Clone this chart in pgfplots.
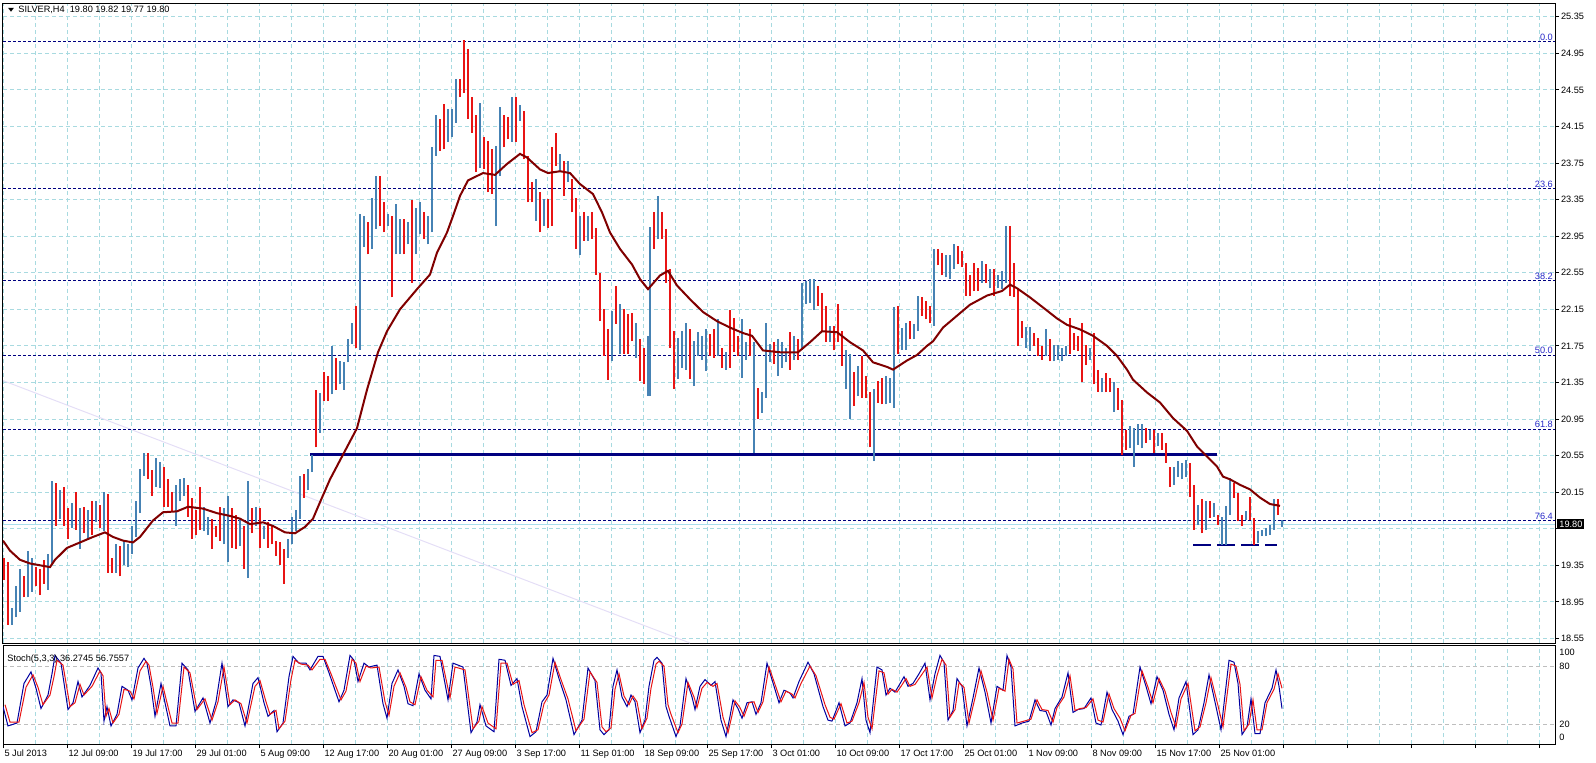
\documentclass[border=0pt]{standalone}
\usepackage{fontspec}
\setmainfont{Liberation Sans}
\usepackage{pgfplots}
\usepackage{pgfplotstable}
\pgfplotsset{compat=1.18}

\definecolor{gridc}{RGB}{168,218,224}
\definecolor{bull}{RGB}{70,130,180}
\definecolor{bear}{RGB}{232,20,20}
\definecolor{maline}{RGB}{128,0,0}
\definecolor{fib}{RGB}{0,0,128}
\definecolor{fibtxt}{RGB}{40,40,200}
\definecolor{lav}{RGB}{228,222,246}
\definecolor{kline}{RGB}{0,0,160}
\definecolor{lvl}{RGB}{190,190,190}
\definecolor{lastc}{RGB}{170,222,236}
\newcommand{\lbl}{\fontsize{4.6}{5}\selectfont}

% H4 bars, two bars merged per row: x (px) low high c (0 up, 1 down)
\pgfplotstableread{
x lo hi c
4 19.19 19.43 1
8 18.70 19.39 1
12 18.70 18.88 0
16 18.78 19.12 0
20 18.84 19.31 0
24 19.00 19.23 1
28 19.00 19.51 0
32 19.06 19.43 0
36 19.12 19.33 1
40 19.02 19.31 1
44 19.15 19.41 1
48 19.08 19.47 0
52 19.35 20.27 0
56 19.78 20.25 1
60 19.86 20.17 0
64 19.78 20.21 1
68 19.64 19.98 1
72 19.76 20.03 0
76 19.74 20.15 1
80 19.53 19.98 0
84 19.70 19.99 1
88 19.64 19.96 0
92 19.68 20.05 1
96 19.82 20.05 0
100 19.76 20.01 1
104 19.72 20.15 0
108 19.27 20.13 1
112 19.27 19.43 1
116 19.27 19.58 0
120 19.23 19.56 1
124 19.35 19.62 0
128 19.33 19.58 0
132 19.47 19.78 0
136 19.66 20.05 0
140 19.92 20.40 0
144 20.33 20.58 0
148 20.29 20.58 1
152 20.11 20.39 1
156 20.21 20.52 0
160 20.19 20.48 0
164 19.99 20.42 1
168 19.99 20.29 1
172 19.94 20.15 1
176 19.78 20.23 0
180 20.05 20.29 0
184 20.11 20.31 0
188 19.88 20.23 1
192 19.64 20.09 1
196 19.68 19.96 1
200 19.74 20.21 1
204 19.72 19.99 0
208 19.68 19.88 0
212 19.53 19.86 1
216 19.66 19.78 1
220 19.62 19.99 1
224 19.58 19.98 0
228 19.39 20.11 0
232 19.54 19.98 1
236 19.53 19.90 1
240 19.56 19.86 0
244 19.31 19.78 1
248 19.21 20.27 0
252 19.70 19.98 1
256 19.78 19.99 0
260 19.54 19.98 1
264 19.64 19.78 0
268 19.54 19.82 1
272 19.58 19.78 1
276 19.45 19.62 1
280 19.35 19.60 1
284 19.15 19.53 1
288 19.43 19.64 0
292 19.58 19.88 0
296 19.72 19.96 0
300 19.86 20.33 0
304 20.09 20.35 1
308 20.17 20.40 0
312 20.37 20.56 0
316 20.64 21.27 1
320 20.80 21.23 0
324 21.15 21.46 1
328 21.15 21.42 1
332 21.22 21.75 0
336 21.27 21.62 1
340 21.33 21.58 0
344 21.27 21.57 0
348 21.57 21.82 0
352 21.77 22.00 0
356 21.73 22.19 1
360 21.71 23.19 0
364 22.83 23.17 0
368 22.75 23.10 1
372 22.81 23.37 0
376 23.03 23.61 0
380 23.06 23.61 1
384 22.99 23.32 1
388 23.06 23.19 0
392 22.28 23.17 1
396 22.75 23.30 0
400 22.75 23.14 0
404 22.75 23.14 1
408 22.86 23.10 0
412 22.44 23.34 1
416 22.75 23.26 0
420 22.97 23.32 0
424 22.92 23.21 1
428 22.86 23.17 0
432 22.99 23.92 0
436 23.83 24.27 0
440 23.88 24.23 1
444 23.90 24.40 1
448 23.98 24.34 0
452 24.03 24.34 0
456 24.19 24.67 0
460 24.47 24.67 1
464 24.52 25.09 1
468 24.23 25.00 1
472 24.08 24.47 1
476 23.65 24.27 1
480 23.70 24.41 0
484 23.68 24.03 1
488 23.43 23.99 1
492 23.41 23.90 1
496 23.06 23.94 0
500 23.61 24.36 0
504 23.92 24.27 1
508 24.01 24.25 1
512 23.98 24.47 0
516 23.98 24.47 1
520 24.21 24.38 0
524 23.79 24.32 1
528 23.32 23.83 1
532 23.32 23.54 1
536 23.12 23.57 0
540 22.99 23.43 1
544 23.06 23.36 0
548 23.04 23.36 1
552 23.06 23.92 1
556 23.72 24.08 1
560 23.65 23.85 0
564 23.39 23.77 1
568 23.54 23.77 0
572 23.21 23.57 1
576 22.81 23.37 1
580 22.74 23.17 0
584 22.90 23.21 1
588 22.90 23.17 0
592 22.92 23.21 1
596 22.53 23.04 1
600 22.02 22.55 1
604 21.64 22.15 1
608 21.38 21.93 1
612 21.58 22.13 0
616 21.99 22.41 1
620 21.66 22.21 0
624 21.66 22.15 1
628 21.66 22.10 1
632 21.80 22.11 1
636 21.62 22.00 0
640 21.37 21.82 1
644 21.33 21.73 1
648 21.20 21.86 0
650 21.20 23.05 0
654 22.81 23.21 1
658 22.92 23.39 0
662 22.92 23.21 1
666 22.44 23.03 1
670 21.73 22.59 1
674 21.28 21.91 1
678 21.39 21.84 0
682 21.51 21.91 0
686 21.49 22.00 0
690 21.39 21.93 1
694 21.31 21.80 0
698 21.64 21.90 0
702 21.60 21.86 0
706 21.48 21.93 0
710 21.64 21.88 1
714 21.62 21.93 1
718 21.64 22.04 0
722 21.51 21.73 1
726 21.49 21.68 0
730 21.51 22.14 1
734 21.68 22.06 1
738 21.64 21.86 1
742 21.40 22.04 0
746 21.60 21.79 0
750 21.64 21.93 1
754 20.58 21.79 0
758 20.95 21.29 1
762 21.02 21.24 0
766 21.18 22.00 0
770 21.57 21.77 0
774 21.55 21.79 1
778 21.42 21.82 0
782 21.51 21.79 0
786 21.57 21.73 0
790 21.49 21.90 1
794 21.60 21.86 0
798 21.60 21.82 1
802 21.71 22.44 0
806 22.21 22.46 0
810 22.22 22.48 0
814 22.14 22.48 0
818 22.19 22.41 1
822 21.91 22.33 1
826 21.79 22.19 1
830 21.79 21.97 0
834 21.70 21.97 1
838 21.79 22.21 1
842 21.53 21.91 1
846 21.28 21.71 0
850 20.95 21.66 0
854 21.09 21.46 1
858 21.20 21.53 0
862 21.18 21.64 1
866 21.18 21.42 1
870 20.64 21.24 1
874 20.49 21.28 0
878 21.13 21.37 1
882 21.11 21.40 1
886 21.11 21.42 0
890 21.13 21.40 0
894 21.07 22.17 0
898 21.66 22.19 1
902 21.71 21.95 0
906 21.71 22.00 0
910 21.82 22.02 1
914 21.82 21.99 0
918 21.91 22.30 0
922 22.08 22.28 1
926 22.04 22.24 1
930 22.00 22.19 1
934 21.97 22.81 0
938 22.63 22.81 1
942 22.52 22.77 1
946 22.50 22.74 0
950 22.48 22.74 0
954 22.59 22.86 0
958 22.64 22.84 1
962 22.61 22.79 1
966 22.30 22.66 1
970 22.30 22.52 1
974 22.35 22.66 1
978 22.35 22.60 1
982 22.44 22.68 0
986 22.44 22.64 1
990 22.38 22.59 0
994 22.29 22.59 1
998 22.38 22.53 0
1002 22.37 22.57 0
1006 22.44 23.06 0
1010 22.29 23.06 1
1014 22.28 22.66 1
1018 21.75 22.38 1
1022 21.84 22.02 1
1026 21.73 21.96 0
1030 21.69 21.96 0
1034 21.75 21.89 1
1038 21.64 21.84 1
1042 21.60 21.75 1
1046 21.64 21.93 0
1050 21.58 21.82 1
1054 21.58 21.76 0
1058 21.60 21.76 0
1062 21.58 21.73 0
1066 21.64 21.75 0
1070 21.66 22.06 1
1074 21.71 21.89 1
1078 21.69 21.86 1
1082 21.36 22.00 1
1086 21.54 21.76 1
1090 21.60 21.73 0
1094 21.33 21.89 1
1098 21.25 21.49 1
1102 21.24 21.40 0
1106 21.24 21.45 1
1110 21.24 21.40 1
1114 21.03 21.36 0
1118 21.05 21.29 1
1122 20.56 21.16 1
1126 20.61 20.83 1
1130 20.63 20.87 0
1134 20.43 20.85 0
1138 20.67 20.89 0
1142 20.63 20.89 0
1146 20.69 20.85 1
1150 20.72 20.83 0
1154 20.58 20.83 1
1158 20.65 20.80 0
1162 20.61 20.80 1
1166 20.47 20.69 1
1170 20.21 20.43 1
1174 20.23 20.43 0
1178 20.32 20.49 0
1182 20.29 20.47 0
1186 20.32 20.50 0
1190 20.10 20.47 1
1194 19.74 20.23 1
1198 19.79 20.01 0
1202 19.70 20.07 1
1206 19.74 20.05 0
1210 19.87 20.05 1
1214 19.88 20.03 0
1218 19.79 19.90 1
1222 19.57 19.88 0
1226 19.57 20.00 0
1230 19.90 20.30 0
1234 20.09 20.25 1
1238 19.83 20.14 1
1242 19.78 19.90 1
1246 19.85 19.94 0
1250 19.85 20.10 1
1254 19.57 19.87 1
1258 19.59 19.72 0
1262 19.67 19.74 0
1266 19.67 19.76 0
1270 19.68 19.79 0
1274 19.74 20.07 0
1278 19.90 20.07 1
1282 19.77 19.84 0
}\bars

\begin{document}
\begin{tikzpicture}
\path[use as bounding box] (0pt,0pt) rectangle (798pt,381pt);

% ---------- price panel ----------
\begin{axis}[
    scale only axis, width=776pt, height=320pt,
    at={(1.5pt,59.5pt)}, anchor=south west,
    xmin=3, xmax=1555, ymin=18.50, ymax=25.50,
    axis line style={line width=0.5pt, black},
    xtick={3.5,67.5,...,1539.5}, minor x tick num=1,
    xticklabels={}, xtick style={draw=none},
    ytick={18.55,18.95,19.35,19.75,20.15,20.55,20.95,21.35,21.75,22.15,22.55,22.95,23.35,23.75,24.15,24.55,24.95,25.35},
    yticklabels={18.55,18.95,19.35,,20.15,20.55,20.95,21.35,21.75,22.15,22.55,22.95,23.35,23.75,24.15,24.55,24.95,25.35},
    ytick pos=right, yticklabel pos=right,
    tick align=outside, major tick length=2pt, minor tick length=0pt,
    ytick style={line width=0.5pt, black},
    xmajorgrids, xminorgrids, ymajorgrids,
    grid style={gridc, line width=0.5pt, dash pattern=on 2pt off 1.5pt},
    yticklabel style={font=\lbl, anchor=west, inner sep=0pt, xshift=0.8pt},
    clip mode=individual,
]
% faint trend line
\addplot[lav, line width=0.5pt] coordinates {(3,21.37) (690,18.50)};
% fibonacci levels
\addplot[fib, line width=0.5pt, dash pattern=on 1.5pt off 1pt] coordinates {(3,25.08) (1555,25.08)};
\addplot[fib, line width=0.5pt, dash pattern=on 1.5pt off 1pt] coordinates {(3,23.47) (1555,23.47)};
\addplot[fib, line width=0.5pt, dash pattern=on 1.5pt off 1pt] coordinates {(3,22.46) (1555,22.46)};
\addplot[fib, line width=0.5pt, dash pattern=on 1.5pt off 1pt] coordinates {(3,21.65) (1555,21.65)};
\addplot[fib, line width=0.5pt, dash pattern=on 1.5pt off 1pt] coordinates {(3,20.84) (1555,20.84)};
\addplot[fib, line width=0.5pt, dash pattern=on 1.5pt off 1pt] coordinates {(3,19.84) (1555,19.84)};
% last price line
\addplot[lastc, line width=0.5pt] coordinates {(3,19.80) (1555,19.80)};
% support line and lows
\addplot[fib, line width=1.5pt] coordinates {(310,20.56) (1217,20.56)};
\addplot[fib, line width=1pt, dash pattern=on 9pt off 3pt] coordinates {(1193,19.57) (1277,19.57)};

% bars
\addplot[draw=none, mark=none, forget plot,
  restrict expr to domain={\thisrow{c}}{-0.5:0.5},
  error bars/.cd, y dir=plus, y explicit, error mark=none,
  error bar style={draw=bull, line width=0.7pt}]
  table[x=x, y=lo, y error expr=\thisrow{hi}-\thisrow{lo}] {\bars};
\addplot[draw=none, mark=none, forget plot,
  restrict expr to domain={\thisrow{c}}{0.5:1.5},
  error bars/.cd, y dir=plus, y explicit, error mark=none,
  error bar style={draw=bear, line width=0.7pt}]
  table[x=x, y=lo, y error expr=\thisrow{hi}-\thisrow{lo}] {\bars};

% moving average
\addplot[maline, line width=1pt] coordinates {
(3,19.62)(10,19.51)(20,19.41)(30,19.37)(40,19.35)(50,19.33)(55,19.41)(67,19.54)
(80,19.60)(93,19.66)(105,19.71)(113,19.66)(123,19.62)(133,19.60)(140,19.66)(153,19.84)
(163,19.93)(177,19.94)(188,19.99)(203,19.97)(217,19.92)(230,19.89)(240,19.86)(250,19.80)
(263,19.82)(273,19.78)(285,19.71)(295,19.70)(305,19.77)(313,19.86)(320,20.04)(330,20.29)
(343,20.56)(357,20.85)(367,21.27)(378,21.68)(387,21.91)(400,22.15)(417,22.37)(430,22.53)
(437,22.77)(447,22.99)(453,23.17)(460,23.39)(468,23.56)(483,23.64)(495,23.62)(507,23.74)
(520,23.85)(527,23.81)(540,23.68)(548,23.64)(560,23.66)(570,23.64)(580,23.52)(593,23.41)
(602,23.21)(610,22.99)(620,22.81)(632,22.64)(640,22.48)(648,22.37)(660,22.52)(668,22.57)
(677,22.41)(690,22.26)(703,22.12)(717,22.02)(730,21.95)(743,21.89)(752,21.86)(763,21.70)
(780,21.68)(798,21.68)(810,21.79)(822,21.91)(837,21.90)(850,21.79)(863,21.70)(873,21.57)
(887,21.52)(893,21.49)(907,21.59)(917,21.65)(927,21.75)(933,21.80)(943,21.95)(957,22.08)
(970,22.20)(987,22.30)(1002,22.35)(1010,22.42)(1017,22.38)(1030,22.28)(1043,22.17)(1057,22.05)
(1067,21.98)(1080,21.93)(1093,21.86)(1107,21.75)(1117,21.64)(1127,21.49)(1133,21.38)(1147,21.24)
(1160,21.13)(1173,20.96)(1187,20.82)(1197,20.65)(1207,20.54)(1217,20.43)(1223,20.32)(1230,20.29)
(1240,20.23)(1250,20.18)(1260,20.09)(1270,20.02)(1280,20.00)};

% labels
\fill (axis cs:8,25.448) -- (axis cs:14,25.448) -- (axis cs:11,25.405) -- cycle;
\node[anchor=west, inner sep=0pt, font=\lbl] at (axis cs:18,25.427) {SILVER,H4\ \ 19.80 19.82 19.77 19.80};
\node[anchor=south east, inner sep=0.4pt, font=\lbl, text=fibtxt] at (axis cs:1554,25.08) {0.0};
\node[anchor=south east, inner sep=0.4pt, font=\lbl, text=fibtxt] at (axis cs:1554,23.47) {23.6};
\node[anchor=south east, inner sep=0.4pt, font=\lbl, text=fibtxt] at (axis cs:1554,22.46) {38.2};
\node[anchor=south east, inner sep=0.4pt, font=\lbl, text=fibtxt] at (axis cs:1554,21.65) {50.0};
\node[anchor=south east, inner sep=0.4pt, font=\lbl, text=fibtxt] at (axis cs:1554,20.84) {61.8};
\node[anchor=south east, inner sep=0.4pt, font=\lbl, text=fibtxt] at (axis cs:1554,19.84) {76.4};
\node[anchor=west, fill=black, text=white, inner xsep=1pt, inner ysep=1pt, font=\lbl] at (axis cs:1557,19.80) {19.80};
\end{axis}

% ---------- stochastic panel ----------
\begin{axis}[
    scale only axis, width=776pt, height=49.5pt,
    at={(1.5pt,9pt)}, anchor=south west,
    xmin=3, xmax=1555, ymin=-0.7, ymax=101.8,
    axis line style={line width=0.5pt, black},
    xtick={3.5,67.5,...,1539.5}, minor x tick num=1,
    xticklabels={5 Jul 2013,12 Jul 09:00,19 Jul 17:00,29 Jul 01:00,5 Aug 09:00,12 Aug 17:00,20 Aug 01:00,27 Aug 09:00,3 Sep 17:00,11 Sep 01:00,18 Sep 09:00,25 Sep 17:00,3 Oct 01:00,10 Oct 09:00,17 Oct 17:00,25 Oct 01:00,1 Nov 09:00,8 Nov 09:00,15 Nov 17:00,25 Nov 01:00,,,,,},
    xtick pos=bottom, tick align=outside, major tick length=2pt, minor tick length=0pt,
    xtick style={line width=0.5pt, black},
    xticklabel style={font=\lbl, anchor=north west, inner sep=0pt, xshift=0.3pt, yshift=-0.6pt},
    ytick={20,80}, yticklabels={}, ytick style={draw=none},
    xmajorgrids, xminorgrids, ymajorgrids,
    grid style={gridc, line width=0.5pt, dash pattern=on 2pt off 1.5pt},
    y grid style={lvl, line width=0.5pt, dash pattern=on 2pt off 1.5pt},
    clip mode=individual,
]
\addplot[kline, line width=0.5pt] coordinates {
(3,38)(8,18)(17,21)(24,62)(31,74)(36,57)(41,36)(48,50)(52,72)(55,91)(61,83)(68,35)(73,42)(78,64)(82,48)
(90,60)(98,78)(101,73)(104,23)(107,38)(111,18)(117,30)(122,59)(128,55)(132,45)(138,78)(144,88)(147,83)
(151,59)(155,28)(161,62)(165,42)(170,18)(176,18)(182,83)(188,76)(195,33)(203,47)(210,21)(216,43)(222,83)
(228,38)(233,45)(239,42)(245,18)(253,62)(258,68)(264,42)(268,28)(274,34)(277,12)(283,21)(289,69)(293,90)
(299,83)(306,83)(310,76)(318,90)(323,90)(329,73)(339,43)(344,55)(350,91)(354,86)(358,64)(364,83)(369,79)
(377,81)(383,41)(387,26)(392,62)(398,76)(404,59)(408,41)(413,39)(419,72)(425,55)(431,46)(434,91)(440,90)
(448,45)(453,83)(463,79)(471,11)(477,22)(480,40)(486,18)(494,12)(499,87)(505,86)(511,60)(517,67)(522,38)
(530,7)(536,12)(542,43)(547,50)(553,88)(559,67)(566,45)(574,9)(582,24)(588,78)(595,65)(600,14)(604,9)
(609,14)(613,59)(617,76)(620,59)(622,48)(627,38)(631,50)(635,43)(640,11)(645,24)(649,59)(654,86)(657,89)
(662,83)(666,38)(669,28)(676,7)(680,18)(686,67)(692,48)(695,35)(700,59)(705,66)(711,60)(715,64)(721,24)
(726,7)(730,28)(733,45)(738,36)(742,26)(747,42)(752,43)(756,30)(761,42)(767,83)(772,66)(779,42)(784,55)
(790,52)(793,47)(799,64)(808,84)(814,72)(823,38)(828,24)(832,23)(839,42)(845,18)(850,21)(857,42)(862,67)
(866,24)(870,11)(877,79)(882,76)(886,50)(890,57)(895,53)(899,60)(904,69)(908,59)(913,62)(919,72)(925,83)
(930,45)(935,72)(940,91)(944,84)(948,24)(953,34)(957,67)(962,59)(967,18)(973,47)(979,78)(985,53)(991,21)
(997,59)(1003,55)(1007,91)(1011,79)(1015,18)(1022,21)(1029,23)(1035,45)(1040,34)(1046,33)(1051,19)
(1055,36)(1062,48)(1068,73)(1073,32)(1078,35)(1084,36)(1091,47)(1096,21)(1101,19)(1107,53)(1112,35)
(1118,23)(1123,9)(1129,28)(1133,30)(1140,79)(1146,59)(1151,41)(1157,69)(1163,55)(1169,30)(1174,14)
(1179,47)(1186,64)(1193,9)(1198,14)(1204,42)(1209,71)(1216,38)(1221,14)(1229,86)(1234,84)(1238,62)
(1242,9)(1247,17)(1251,46)(1255,10)(1260,10)(1265,42)(1272,57)(1276,76)(1279,59)(1282,36)};
\addplot[bear, line width=0.5pt] coordinates {
(5,40)(10,22)(19,22)(26,58)(33,71)(38,58)(43,40)(50,50)(54,69)(57,86)(63,81)(70,38)(75,42)(80,61)(84,50)
(92,59)(100,75)(103,70)(106,28)(109,36)(113,21)(119,30)(124,56)(130,54)(134,46)(140,75)(146,85)(149,81)
(153,58)(157,31)(163,59)(167,42)(172,21)(178,21)(184,79)(190,73)(197,35)(205,46)(212,24)(218,43)(224,79)
(230,40)(235,45)(241,41)(247,21)(255,59)(260,65)(266,43)(270,30)(276,34)(279,15)(285,23)(291,66)(295,86)
(301,82)(308,81)(312,76)(320,87)(325,87)(331,72)(341,45)(346,54)(352,87)(356,83)(360,64)(366,80)(371,78)
(379,79)(385,43)(389,29)(394,59)(400,73)(406,58)(410,43)(415,40)(421,69)(427,55)(433,48)(436,86)(442,86)
(450,47)(455,79)(465,76)(473,15)(479,23)(482,38)(488,21)(496,15)(501,83)(507,83)(513,61)(519,65)(524,40)
(532,11)(538,14)(544,41)(549,50)(555,84)(561,66)(568,46)(576,13)(584,25)(590,74)(597,63)(602,17)(606,12)
(611,16)(615,56)(619,72)(622,58)(624,49)(629,40)(633,49)(637,43)(642,15)(647,26)(651,57)(656,82)(659,85)
(664,80)(668,40)(671,30)(678,11)(682,20)(688,63)(694,48)(697,37)(702,57)(707,63)(713,59)(717,62)(723,27)
(728,11)(732,29)(735,44)(740,37)(744,28)(749,42)(754,43)(758,32)(763,43)(769,79)(774,64)(781,43)(786,54)
(792,51)(795,47)(801,62)(810,80)(816,70)(825,40)(830,27)(834,25)(841,41)(847,21)(852,23)(859,42)(864,63)
(868,27)(872,15)(879,75)(884,73)(888,51)(892,56)(897,53)(901,59)(906,67)(910,59)(915,61)(921,70)(927,79)
(932,47)(937,70)(942,87)(946,81)(950,27)(955,35)(959,63)(964,58)(969,21)(975,47)(981,75)(987,53)(993,24)
(999,57)(1005,54)(1009,87)(1013,77)(1017,21)(1024,23)(1031,25)(1037,45)(1042,35)(1048,34)(1053,22)
(1057,37)(1064,48)(1070,70)(1075,34)(1080,36)(1086,37)(1093,46)(1098,24)(1103,22)(1109,51)(1114,36)
(1120,26)(1125,13)(1131,29)(1135,31)(1142,75)(1148,58)(1153,42)(1159,67)(1165,54)(1171,32)(1176,17)
(1181,46)(1188,62)(1195,13)(1200,17)(1206,42)(1211,68)(1218,39)(1223,17)(1231,82)(1236,80)(1240,61)
(1244,13)(1249,20)(1253,45)(1257,14)(1262,14)(1267,42)(1274,56)(1278,72)(1282,57)};
\node[anchor=west, inner sep=0pt, font=\lbl] at (axis cs:7,87.3) {Stoch(5,3,3) 36.2745 56.7557};
\node[anchor=west, inner sep=0pt, font=\lbl] at (axis cs:1559,94.5) {100};
\node[anchor=west, inner sep=0pt, font=\lbl] at (axis cs:1559,80) {80};
\node[anchor=west, inner sep=0pt, font=\lbl] at (axis cs:1559,20) {20};
\node[anchor=west, inner sep=0pt, font=\lbl] at (axis cs:1559,6.5) {0};
\end{axis}
\end{tikzpicture}
\end{document}
